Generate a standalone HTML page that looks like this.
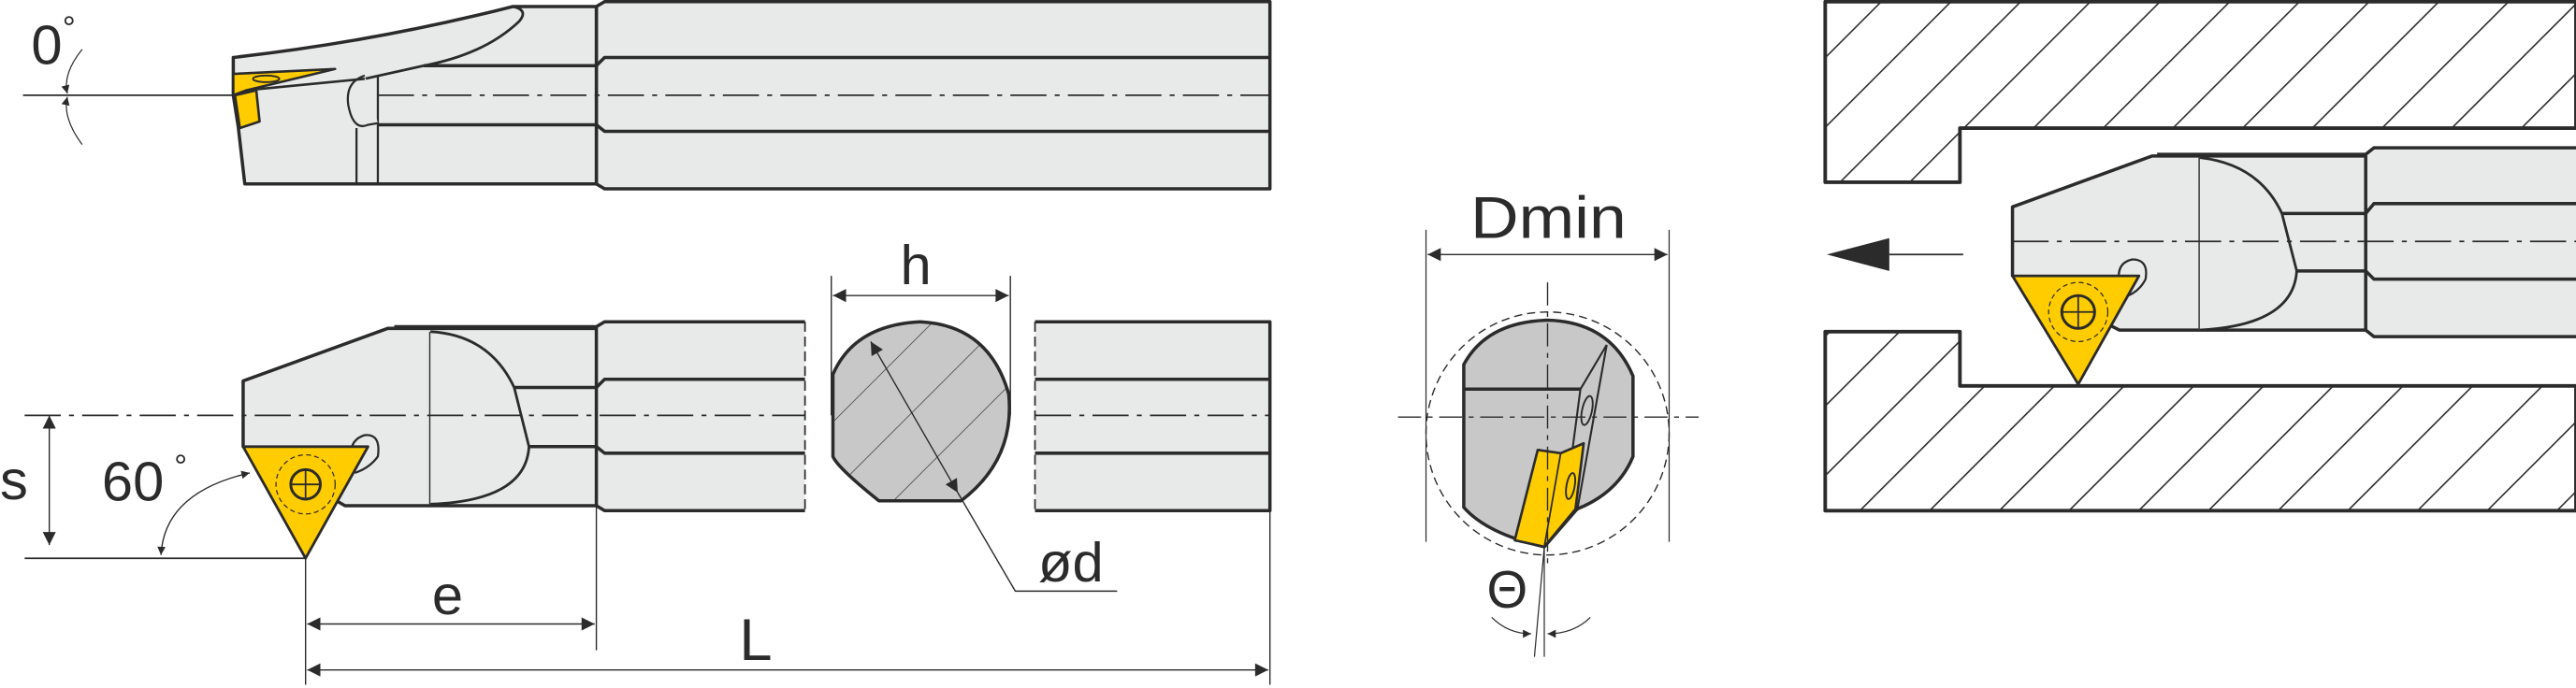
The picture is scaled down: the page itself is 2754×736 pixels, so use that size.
<!DOCTYPE html>
<html><head><meta charset="utf-8"><style>
html,body{margin:0;padding:0;background:#fff;}
svg{display:block;}
text{font-family:"Liberation Sans",sans-serif;fill:#2b2b2b;}
</style></head><body>
<svg width="2754" height="736" viewBox="0 0 1568 419" preserveAspectRatio="none" xmlns="http://www.w3.org/2000/svg">
<defs>
<pattern id="hw" patternUnits="userSpaceOnUse" width="30" height="30" patternTransform="rotate(45)">
<line x1="0" y1="0" x2="0" y2="30" stroke="#2b2b2b" stroke-width="1.8"/></pattern>
<pattern id="hs" patternUnits="userSpaceOnUse" width="30" height="30" patternTransform="rotate(45)">
<line x1="0" y1="0" x2="0" y2="30" stroke="#2b2b2b" stroke-width="0.8"/></pattern>
<marker id="ar" viewBox="0 0 10 10" refX="10" refY="5" markerWidth="12" markerHeight="8" markerUnits="userSpaceOnUse" orient="auto-start-reverse"><path d="M0,0 L10,5 L0,10 z" fill="#2b2b2b"/></marker>
<marker id="as" viewBox="0 0 10 10" refX="10" refY="5" markerWidth="7" markerHeight="5" markerUnits="userSpaceOnUse" orient="auto-start-reverse"><path d="M0,0 L10,5 L0,10 z" fill="#2b2b2b"/></marker>
</defs>
<g stroke="#2b2b2b" stroke-linejoin="round" fill="none">

<!-- TOP VIEW -->
<path d="M363,4 L368,1 L773,1 L773,115 L368,115 L363,112 Z" fill="#e8eae9" stroke-width="2"/>
<path d="M142,35 Q230,25 312,4 L363,4 L363,112 L149,112 L145,77 L142,58 Z" fill="#e8eae9" stroke-width="2"/>
<path d="M312,4 Q322,6 316,13 Q295,33 258,40 L222,48" stroke-width="1.6"/>
<path d="M258,40 L363,40 M230,76 L363,76 M363,40 L368,35 L773,35 M363,76 L368,80 L773,80" stroke-width="2"/>
<path d="M217,78 L217,112 M230,46 L230,112" stroke-width="1.3"/>
<path d="M222,46 Q210,50 212,64 Q215,80 224,76 L230,75" fill="#e8eae9" stroke-width="1.3"/>
<path d="M142,45 L204,42 L150,55 L142,58 Z" fill="#ffcc00" stroke-width="1.5"/>
<path d="M150,55 L222,48" stroke-width="1.5"/>
<ellipse cx="162" cy="48" rx="8" ry="2" stroke-width="1.1"/>
<path d="M143,58 L156,55 L158,74 L146,78 Z" fill="#ffcc00" stroke-width="1.5"/>
<path d="M230,58 L773,58" stroke-width="1" stroke-dasharray="22,5,3,5"/>
<path d="M14,58 L142,58" stroke-width="1"/>
<path d="M50,30 Q38,45 41,57" stroke-width="0.7" marker-end="url(#as)"/>
<path d="M50,88 Q38,72 41,59" stroke-width="0.7" marker-end="url(#as)"/>

<!-- BOTTOM VIEW -->
<path d="M363,199 L368,196 L490,196 L490,311 L368,311 L363,308 Z" fill="#e8eae9" stroke="none"/>
<path d="M363,199 L368,196 L490,196 M490,311 L368,311 L363,308 M363,236 L368,231 L490,231 M363,272 L368,276 L490,276" stroke-width="2"/>
<path d="M490,196 L490,311" stroke-width="1" stroke-dasharray="6,3"/>
<path d="M630,196 L773,196 L773,311 L630,311 Z" fill="#e8eae9" stroke="none"/>
<path d="M630,196 L773,196 L773,311 L630,311 M630,231 L773,231 M630,276 L773,276" stroke-width="2"/>
<path d="M630,196 L630,311" stroke-width="1" stroke-dasharray="6,3"/>
<path d="M148,232 L236,200 L363,200 L363,308 L210,308 L148,272 Z" fill="#e8eae9" stroke-width="2"/>
<path d="M240,199 L363,199" stroke-width="2"/>
<path d="M262,202 L262,307" stroke-width="1.6"/>
<path d="M262,202 Q298,204 313,236 L322,272 Q320,305 262,307" fill="#e8eae9" stroke-width="1.6"/>
<path d="M313,236 L363,236 M322,272 L363,272" stroke-width="2"/>
<path d="M15,253 L490,253 M630,253 L773,253" stroke-width="1" stroke-dasharray="22,5,3,5"/>
<path d="M214,280 Q212,268 222,265 Q232,264 230,278 Q225,285 216,288" fill="#e8eae9" stroke-width="1.3"/>
<path d="M148,272 L224,272 L186,340 Z" fill="#ffcc00" stroke-width="1.6"/>
<circle cx="186" cy="295" r="18" stroke-width="0.7" stroke-dasharray="3,2"/>
<circle cx="186" cy="295" r="9" stroke-width="1.7"/>
<path d="M177,295 L195,295 M186,286 L186,304" stroke-width="1"/>
<path d="M15,340 L186,340" stroke-width="1"/>
<path d="M30,253 L30,332" stroke-width="0.8" marker-start="url(#ar)" marker-end="url(#ar)"/>
<path d="M98,338 Q100,300 152,288" stroke-width="0.8" marker-start="url(#as)" marker-end="url(#as)"/>
<path d="M186,340 L186,417 M363,308 L363,396 M773,311 L773,417" stroke-width="0.8"/>
<path d="M187,380 L362,380" stroke-width="0.8" marker-start="url(#ar)" marker-end="url(#ar)"/>
<path d="M187,408 L772,408" stroke-width="0.8" marker-start="url(#ar)" marker-end="url(#ar)"/>

<!-- CROSS SECTION -->
<path d="M507,228 Q520,198 560,196 Q602,198 614,240 Q618,280 585,305 L535,305 Q510,285 507,278 Z" fill="#c7c8c7" stroke-width="2"/>
<path d="M507,228 Q520,198 560,196 Q602,198 614,240 Q618,280 585,305 L535,305 Q510,285 507,278 Z" fill="url(#hs)" stroke="none"/>
<path d="M506,168 L506,253 M615,168 L615,253" stroke-width="0.8"/>
<path d="M507,180 L614,180" stroke-width="0.8" marker-start="url(#ar)" marker-end="url(#ar)"/>
<path d="M530,208 L583,300" stroke-width="0.8" marker-start="url(#ar)" marker-end="url(#ar)"/>
<path d="M583,300 L618,360 L680,360" stroke-width="0.8"/>

<!-- MIDDLE VIEW -->
<ellipse cx="942" cy="264" rx="74" ry="74" stroke-width="0.8" stroke-dasharray="5,3"/>
<path d="M891,222 Q905,196 942,195 Q980,196 994,229 L994,278 Q985,300 960,310 L940,333 Q905,325 891,309 Z" fill="#c7c8c7" stroke-width="2"/>
<path d="M891,237 L962,237" stroke-width="2"/>
<path d="M978,210 L962,237 L957,275 M978,210 L960,311" stroke-width="1.2"/>
<ellipse cx="966" cy="250" rx="3" ry="9" transform="rotate(12 966 250)" stroke-width="1.1"/>
<path d="M936,274 L950,276 L964,270 L959,310 L940,333 L922,329 Z" fill="#ffcc00" stroke-width="1.5"/>
<path d="M950,276 L940,333" stroke-width="1"/>
<ellipse cx="956" cy="296" rx="2.5" ry="8" transform="rotate(10 956 296)" stroke-width="1.1"/>
<path d="M851,254 L1034,254 M942,172 L942,345" stroke-width="0.8" stroke-dasharray="14,4,3,4"/>
<path d="M868,140 L868,330 M1016,140 L1016,330" stroke-width="0.7"/>
<path d="M869,155 L1015,155" stroke-width="0.8" marker-start="url(#ar)" marker-end="url(#ar)"/>
<path d="M940,333 L934,400 M940,333 L940,400" stroke-width="0.7"/>
<path d="M908,376 Q918,386 932,386" stroke-width="0.7" marker-end="url(#as)"/>
<path d="M968,376 Q958,386 942,386" stroke-width="0.7" marker-end="url(#as)"/>

<!-- RIGHT VIEW -->
<path d="M1111,1 L1568,1 L1568,78 L1193,78 L1193,111 L1111,111 Z" fill="url(#hw)" stroke-width="2.2"/>
<path d="M1111,202 L1193,202 L1193,235 L1568,235 L1568,311 L1111,311 Z" fill="url(#hw)" stroke-width="2.2"/>
<path d="M1440,94 L1445,90 L1568,90 L1568,205 L1445,205 L1440,201 Z" fill="#e8eae9" stroke="none"/>
<path d="M1440,94 L1445,90 L1568,90 M1568,205 L1445,205 L1440,201 M1440,130 L1445,124 L1568,124 M1440,165 L1445,170 L1568,170" stroke-width="2"/>
<path d="M1225,126 L1310,95 L1440,95 L1440,201 L1290,201 L1225,168 Z" fill="#e8eae9" stroke-width="2"/>
<path d="M1313,94 L1440,94" stroke-width="2"/>
<path d="M1339,96 L1339,201" stroke-width="1.6"/>
<path d="M1339,96 Q1375,100 1389,130 L1398,165 Q1396,198 1339,201" fill="#e8eae9" stroke-width="1.6"/>
<path d="M1389,130 L1440,130 M1398,165 L1440,165" stroke-width="2"/>
<path d="M1225,147 L1568,147" stroke-width="1" stroke-dasharray="22,5,3,5"/>
<path d="M1290,172 Q1288,160 1298,158 Q1308,158 1306,170 Q1302,178 1293,181" fill="#e8eae9" stroke-width="1.3"/>
<path d="M1225,168 L1302,168 L1265,234 Z" fill="#ffcc00" stroke-width="1.6"/>
<circle cx="1265" cy="190" r="18" stroke-width="0.7" stroke-dasharray="3,2"/>
<circle cx="1265" cy="190" r="10" stroke-width="1.7"/>
<path d="M1255,190 L1275,190 M1265,180 L1265,200" stroke-width="1"/>
<path d="M1112,155 L1150,145 L1150,165 Z" fill="#2b2b2b" stroke="none"/>
<path d="M1150,155 L1195,155" stroke-width="1"/>
</g>

<g>
<text x="19" y="39" font-size="34" transform="scale(1,1)">0</text><text x="38" y="24" font-size="20">°</text>
<text x="0" y="304" font-size="34">s</text>
<text x="62" y="305" font-size="34">60</text><text x="106" y="291" font-size="20">°</text>
<text x="263" y="374" font-size="34">e</text>
<text x="450" y="402" font-size="36">L</text>
<text x="548" y="173" font-size="34">h</text>
<text x="632" y="354" font-size="34">ød</text>
<text x="895" y="145" font-size="36" textLength="95" lengthAdjust="spacingAndGlyphs">Dmin</text>
<text x="905" y="370" font-size="32">Θ</text>
</g>
</svg>
</body></html>
